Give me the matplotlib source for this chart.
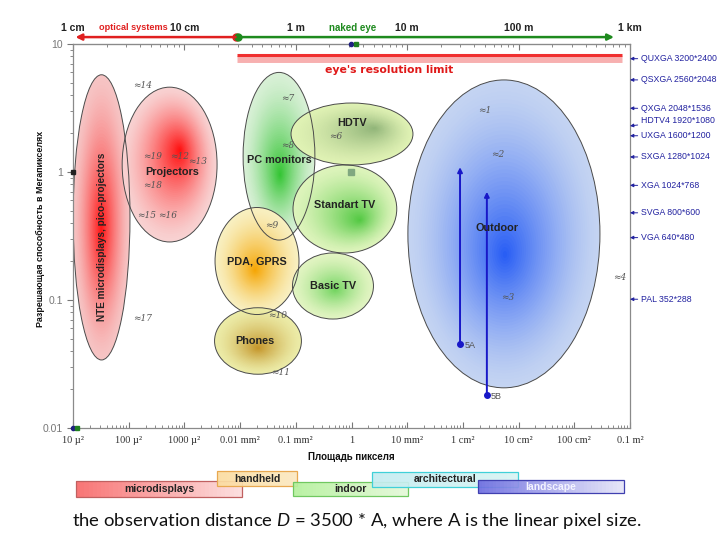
import numpy as np
import matplotlib
matplotlib.use('Agg')
import matplotlib.pyplot as plt
import matplotlib.transforms as mtransforms
from matplotlib.patches import Ellipse, Rectangle
from matplotlib.ticker import LogLocator, NullFormatter
from matplotlib.colors import to_rgb

plt.rcParams['font.family'] = ['Liberation Sans', 'DejaVu Sans']
plt.rcParams['mathtext.fontset'] = 'custom'
plt.rcParams['mathtext.it'] = 'Lato:italic'
plt.rcParams['mathtext.rm'] = 'Lato'

# bottom axis: pixel area, m^2
area_ticks = [1e-11, 1e-10, 1e-9, 1e-8, 1e-7, 1e-6, 1e-5, 1e-4, 1e-3, 1e-2, 1e-1]
area_labels = ['10 µ²', '100 µ²', '1000 µ²', '0.01 mm²', '0.1 mm²', '1',
               '10 mm²', '1 cm²', '10 cm²', '100 cm²', '0.1 m²']
# top axis: observation distance, m
dist_ticks = [0.01, 0.1, 1, 10, 100, 1000]
dist_labels = ['1 cm', '10 cm', '1 m', '10 m', '100 m', '1 km']
# left axis: megapixels
mp_ticks = [0.01, 0.1, 1, 10]
mp_labels = ['0.01', '0.1', '1', '10']

# display formats on the right
fmt_names = ['QUXGA 3200*2400', 'QSXGA 2560*2048', 'QXGA 2048*1536', 'HDTV4 1920*1080',
             'UXGA 1600*1200', 'SXGA 1280*1024', 'XGA 1024*768', 'SVGA 800*600',
             'VGA 640*480', 'PAL 352*288']
fmt_w = [3200, 2560, 2048, 1920, 1600, 1280, 1024, 800, 640, 352]
fmt_h = [2400, 2048, 1536, 1080, 1200, 1024, 768, 600, 480, 288]

# device groups: ranges of pixel area and resolution
ell_names = ['NTE microdisplays, pico-projectors', 'Projectors', 'PC monitors', 'PDA, GPRS',
             'Phones', 'HDTV', 'Standart TV', 'Basic TV', 'Outdoor']
area_lo = [1.0e-11, 7.6e-11, 1.13e-8, 3.54e-9, 3.47e-9, 8.2e-8, 8.9e-8, 8.7e-8, 1.03e-5]
area_hi = [1.05e-10, 3.85e-9, 2.2e-7, 1.14e-7, 1.26e-7, 1.27e-5, 6.5e-6, 2.48e-6, 0.029]
mp_lo = [0.034, 0.284, 0.294, 0.077, 0.0263, 1.135, 0.233, 0.071, 0.0206]
mp_hi = [5.75, 4.6, 6.0, 0.528, 0.087, 3.46, 1.135, 0.233, 5.24]
hot_area = [3.2e-11, 8.3e-10, 5.2e-8, 1.85e-8, 2.1e-8, 2.6e-6, 1.42e-6, 5.1e-7, 5.7e-4]
hot_mp = [0.35, 1.49, 0.95, 0.171, 0.042, 2.2, 0.42, 0.12, 0.225]

# numbered notes
note_lbl = ['≈1', '≈2', '≈3', '≈4', '≈6', '≈7', '≈8', '≈9', '≈10', '≈11',
            '≈12', '≈13', '≈14', '≈15', '≈16', '≈17', '≈18', '≈19']
note_area = [2.5e-4, 4.3e-4, 6.5e-4, 0.066, 5.1e-7, 7.2e-8, 7.2e-8, 3.7e-8, 4.6e-8, 5.4e-8,
             8.3e-10, 1.75e-9, 1.73e-10, 2.1e-10, 4.9e-10, 1.8e-10, 2.7e-10, 2.7e-10]
note_mp = [3.05, 1.36, 0.104, 0.151, 1.91, 3.78, 1.6, 0.385, 0.075, 0.027,
           1.31, 1.2, 4.7, 0.46, 0.46, 0.072, 0.79, 1.31]

# outdoor arrows 5A / 5B
arr_lbl = ['5A', '5B']
arr_area = [8.9e-5, 2.7e-4]
arr_mp_lo = [0.0453, 0.018]
arr_mp_hi = [1.09, 0.70]

# distance ranges (m) above the chart
optical_d = [0.0105, 0.29]
naked_d = [0.30, 720]
eye_limit_mp = 8.2
eye_limit_area = [8.8e-9, 0.072]

# usage bands under the chart
band_names = ['microdisplays', 'handheld', 'indoor', 'architectural', 'landscape']
band_lo = [1.13e-11, 3.85e-9, 8.9e-8, 2.33e-6, 1.87e-4]
band_hi = [1.08e-8, 1.05e-7, 1.03e-5, 9.7e-4, 0.078]

K = np.sqrt(1e7)


def a2d(a):
    return K * np.sqrt(np.clip(np.asarray(a, dtype=float), 1e-30, None))


def d2a(d):
    return (np.asarray(d, dtype=float) / K) ** 2


fig = plt.figure(figsize=(7.2, 5.4), dpi=100)
ax = fig.add_axes([73 / 720, 1 - 428 / 540, 557 / 720, 384 / 540])
ax.set_xscale('log')
ax.set_yscale('log')
ax.set_xlim(0.995e-11, 1.005e-1)
ax.set_ylim(0.01, 10)

for s in ax.spines.values():
    s.set_color('#8a8a8a')
    s.set_linewidth(0.9)

ax.set_xticks(area_ticks, area_labels, family='Liberation Serif', fontsize=7.5, color='#333333')
ax.xaxis.set_minor_locator(LogLocator(base=10, subs=range(2, 10), numticks=50))
ax.xaxis.set_minor_formatter(NullFormatter())
ax.tick_params(axis='x', which='major', direction='in', length=4, color='#777777', pad=6)
ax.tick_params(axis='x', which='minor', direction='in', length=2.5, color='#777777')
ax.set_yticks(mp_ticks, mp_labels, fontsize=7.5, color='#777777')
ax.yaxis.set_minor_locator(LogLocator(base=10, subs=range(2, 10), numticks=50))
ax.yaxis.set_minor_formatter(NullFormatter())
ax.tick_params(axis='y', which='major', direction='out', length=4, color='#777777', pad=3)
ax.tick_params(axis='y', which='minor', direction='out', length=2.5, color='#777777')

sec = ax.secondary_xaxis('top', functions=(a2d, d2a))
sec.set_xticks(dist_ticks, dist_labels, fontsize=7.5, fontweight='bold', color='#222222')
sec.xaxis.set_minor_locator(LogLocator(base=10, subs=range(2, 10), numticks=50))
sec.xaxis.set_minor_formatter(NullFormatter())
sec.tick_params(which='major', direction='in', length=4, color='#777777', pad=8)
sec.tick_params(which='minor', direction='in', length=2.5, color='#777777')
sec.spines['top'].set_color('#8a8a8a')

# ellipses are drawn in log10 units
lt = ax.transLimits + ax.transAxes

edge_cols = ['#f6c4c4', '#f8d2d2', '#d8f0d6', '#f8f0c0', '#ececa8', '#e0f2b4',
             '#def4bc', '#e2f4c2', '#c4d4f2']
core_cols = ['#ff1010', '#ff0c0c', '#30c430', '#f5a400', '#c49428', '#90b478', '#50c840', '#70d45e', '#245af4']
lbl_off = [(0, -14), (1.5, -5.4), (0, -3), (0, 0), (-2, 0), (0, 8), (0, 3), (0, 0), (-5, 4.3)]

N = 45
for i, name in enumerate(ell_names):
    x0, x1 = np.log10(area_lo[i]), np.log10(area_hi[i])
    y0, y1 = np.log10(mp_lo[i]), np.log10(mp_hi[i])
    cx, cy = (x0 + x1) / 2, (y0 + y1) / 2
    w, h = x1 - x0, y1 - y0
    hx, hy = np.log10(hot_area[i]), np.log10(hot_mp[i])
    ce = np.array(to_rgb(edge_cols[i]))
    cc = np.array(to_rgb(core_cols[i]))
    for k in range(N):
        t = k / N
        sc = 1 - t
        col = ce + (cc - ce) * t ** 1.4
        ax.add_patch(Ellipse((cx + (hx - cx) * t, cy + (hy - cy) * t), w * sc, h * sc,
                             transform=lt, facecolor=col, edgecolor='none', zorder=1 + i * 0.01))

for i, name in enumerate(ell_names):
    x0, x1 = np.log10(area_lo[i]), np.log10(area_hi[i])
    y0, y1 = np.log10(mp_lo[i]), np.log10(mp_hi[i])
    cx, cy = (x0 + x1) / 2, (y0 + y1) / 2
    ax.add_patch(Ellipse((cx, cy), x1 - x0, y1 - y0, transform=lt, facecolor='none',
                         edgecolor='#4a4a4a', lw=0.7, zorder=2))
    rot = 90 if i == 0 else 0
    fs = 7.2 if i == 0 else 7.8
    ax.annotate(name, (10 ** cx, 10 ** cy), xytext=lbl_off[i], textcoords='offset points',
                ha='center', va='center', rotation=rot, fontsize=fs, fontweight='bold',
                color='#222222', zorder=4)

for lbl, a, m in zip(note_lbl, note_area, note_mp):
    ax.text(a, m, lbl, fontsize=6.5, family='DejaVu Serif', style='italic',
            color='#555555', ha='center', va='center', zorder=3, clip_on=False)

# arrows 5A / 5B
for lbl, a, m0, m1 in zip(arr_lbl, arr_area, arr_mp_lo, arr_mp_hi):
    ax.annotate('', xy=(a, m1), xytext=(a, m0),
                arrowprops=dict(arrowstyle='-|>', color='#1818c8', lw=1.4,
                                mutation_scale=7, shrinkA=0, shrinkB=0), zorder=3)
    ax.plot([a], [m0], 'o', color='#1818c8', ms=4, zorder=3)
    ax.annotate(lbl, (a, m0), xytext=(3, -1), textcoords='offset points', fontsize=6.5,
                color='#555555', va='center', ha='left', zorder=3)

# small markers
ax.plot([9.8e-7], [1.0], 's', color='#80a880', ms=4.5, zorder=3)
ax.plot([1e-11], [1.0], 's', color='#222222', ms=3, clip_on=False, zorder=5)
ax.plot([9.8e-7], [10], 'o', color='#202080', ms=3, clip_on=False, zorder=5)
ax.plot([1.2e-6], [10], 's', color='#208020', ms=3.5, clip_on=False, zorder=5)
ax.plot([1e-11], [0.01], 'o', color='#202080', ms=3, clip_on=False, zorder=5)
ax.plot([1.18e-11], [0.01], 's', color='#208020', ms=3.5, clip_on=False, zorder=5)

# eye's resolution limit
ax.plot(eye_limit_area, [eye_limit_mp * 0.93] * 2, color='#f7b0b0', lw=5, solid_capstyle='butt', zorder=2)
ax.plot(eye_limit_area, [eye_limit_mp] * 2, color='#f03030', lw=2.2, solid_capstyle='butt', zorder=3)
ax.text(4.7e-6, 6.3, "eye's resolution limit", color='#e01818', fontsize=7.8,
        fontweight='bold', ha='center', va='center', family='DejaVu Sans')

# distance arrows above the chart
top = mtransforms.blended_transform_factory(ax.transData, ax.transAxes)
oa = d2a(optical_d)
na = d2a(naked_d)
ax.annotate('', xy=(oa[0], 1.018), xytext=(oa[1], 1.018), xycoords=top, textcoords=top,
            arrowprops=dict(arrowstyle='-|>', color='#e02020', lw=1.8, mutation_scale=9,
                            shrinkA=0, shrinkB=0), annotation_clip=False)
ax.plot([oa[1]], [1.018], 'o', color='#e02020', ms=5, transform=top, clip_on=False)
ax.annotate('', xy=(na[1], 1.018), xytext=(na[0], 1.018), xycoords=top, textcoords=top,
            arrowprops=dict(arrowstyle='-|>', color='#1e8a1e', lw=1.8, mutation_scale=9,
                            shrinkA=0, shrinkB=0), annotation_clip=False)
ax.plot([na[0]], [1.018], 'o', color='#1e8a1e', ms=5, transform=top, clip_on=False)
ax.text(1.19e-10, 1.044, 'optical systems', color='#e02020', fontsize=6.6, fontweight='bold',
        ha='center', va='center', transform=top)
ax.text(1.06e-6, 1.042, 'naked eye', color='#1e8a1e', fontsize=7.0, fontweight='bold',
        ha='center', va='center', transform=top)

# display formats on the right edge
rt = mtransforms.blended_transform_factory(ax.transAxes, ax.transData)
for name, fw, fh in zip(fmt_names, fmt_w, fmt_h):
    dy = 4 if name.startswith('HDTV') else 0
    tr = rt + mtransforms.ScaledTranslation(0, dy / 72, fig.dpi_scale_trans)
    ax.annotate(name, xy=(1.0, fw * fh / 1e6), xycoords=tr, xytext=(8, dy),
                textcoords='offset points', ha='left', va='center', fontsize=6.3,
                color='#2222a0', annotation_clip=False,
                arrowprops=dict(arrowstyle='-|>', color='#2222a0', lw=0.7,
                                shrinkA=0.5, shrinkB=0, mutation_scale=5))

# axis titles
fig.text(351 / 720, 1 - 457 / 540, 'Площадь пикселя', ha='center', va='center',
         fontsize=7, fontweight='bold', color='#111111')
fig.text(40 / 720, 1 - 229 / 540, 'Разрешающая способность в Мегапикселях', ha='center',
         va='center', rotation=90, fontsize=6.4, fontweight='bold', color='#111111')

# usage bands
bt = mtransforms.blended_transform_factory(ax.transData, fig.transFigure)
band_y = [(481, 497), (471, 486), (482, 496), (472, 487), (480, 493)]
band_c0 = ['#f86a6a', '#fbdca0', '#b4f09c', '#c4ecf0', '#6e6ee0']
band_c1 = ['#fcdcdc', '#fbe8c0', '#e4f8d8', '#d8f4f4', '#e4e4f8']
band_ec = ['#c06060', '#e8a850', '#70c860', '#40d0d8', '#4040b0']
band_tc = ['#222222', '#222222', '#222222', '#222222', '#f4f4ff']
M = 40
for i, name in enumerate(band_names):
    y0 = 1 - band_y[i][1] / 540
    hh = (band_y[i][1] - band_y[i][0]) / 540
    l0, l1 = np.log10(band_lo[i]), np.log10(band_hi[i])
    edges = np.linspace(l0, l1, M + 1)
    c0 = np.array(to_rgb(band_c0[i]))
    c1 = np.array(to_rgb(band_c1[i]))
    for k in range(M):
        col = c0 + (c1 - c0) * (k / (M - 1))
        fig.add_artist(Rectangle((10 ** edges[k], y0), 10 ** edges[k + 1] - 10 ** edges[k], hh,
                                 transform=bt, facecolor=col, edgecolor='none',
                                 alpha=0.92, zorder=3 + i))
    fig.add_artist(Rectangle((band_lo[i], y0), band_hi[i] - band_lo[i], hh, transform=bt,
                             facecolor='none', edgecolor=band_ec[i], lw=0.9, zorder=3 + i))
    fig.text(10 ** ((l0 + l1) / 2), y0 + hh / 2, name, transform=bt, ha='center', va='center',
             fontsize=7.5, fontweight='bold', color=band_tc[i], zorder=3.5 + i)

fig.text(357 / 720, 1 - 521 / 540,
         'the observation distance $D$ = 3500 * A, where A is the linear pixel size.',
         ha='center', va='center', fontsize=13.3, family='Lato', color='#111111')

fig.savefig('out.png', dpi=100)
